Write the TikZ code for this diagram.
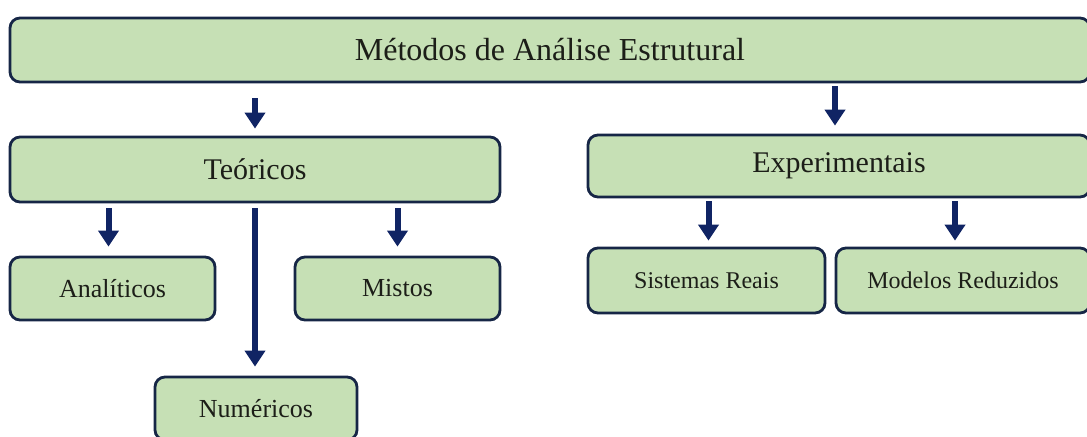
\documentclass[tikz,border=0pt]{standalone}
\usepackage{fontspec}
\setmainfont{Liberation Serif}
\usetikzlibrary{arrows.meta}
\definecolor{boxgreen}{RGB}{198,224,181}
\definecolor{boxline}{RGB}{22,38,70}
\definecolor{arrownavy}{RGB}{16,36,100}
\definecolor{textdark}{RGB}{28,30,24}
\begin{document}
\begin{tikzpicture}[x=0.5pt,y=-0.5pt,
    box/.style={draw=boxline, fill=boxgreen, line width=1.4pt, rounded corners=5pt,
      text=textdark, inner sep=0pt, font=\fontsize{13}{15}\selectfont},
    arr/.style={draw=arrownavy, line width=3pt, -{Triangle[width=10pt,length=8pt]}}]
            % Frame
            \useasboundingbox (0,0) rectangle (1087,436);
            \clip (0,0) rectangle (1087,436);

            % Boxes
            \node[box, minimum width=540pt, minimum height=32pt,
              font=\fontsize{16}{19}\selectfont] (metodos) at (550,50) {Métodos de Análise Estrutural};
            \node[box, minimum width=245pt, minimum height=32.5pt,
              font=\fontsize{15}{18}\selectfont] (teoricos) at (255,169.5) {Teóricos};
            \node[box, minimum width=251pt, minimum height=31pt,
              font=\fontsize{15}{18}\selectfont] (experimentais) at (839,166) {Experimentais};
            \node[box, minimum width=102.5pt, minimum height=31.5pt] (analiticos) at (112.5,288.5) {Analíticos};
            \node[box, minimum width=102.5pt, minimum height=31.5pt] (mistos) at (397.5,288.5) {Mistos};
            \node[box, minimum width=101pt, minimum height=31.5pt] (numericos) at (256,408.5) {Numéricos};
            \node[box, minimum width=118.5pt, minimum height=32.5pt,
              font=\fontsize{12}{14}\selectfont] (reais) at (706.5,280.5) {Sistemas Reais};
            \node[box, minimum width=127pt, minimum height=32.5pt,
              font=\fontsize{12}{14}\selectfont] (reduzidos) at (963,280.5) {Modelos Reduzidos};

            % Arrows
            \draw[arr, shorten <=7.5pt, shorten >=3.5pt] (metodos.south -| teoricos.north) -- (teoricos.north);
            \draw[arr, shorten <=1.5pt, shorten >=4pt] ([xshift=-2pt]metodos.south -| experimentais.north) -- ([xshift=-2pt]experimentais.north);
            \draw[arr, shorten <=2.5pt, shorten >=4.5pt] ([xshift=-2pt]teoricos.south -| analiticos.north) -- ([xshift=-2pt]analiticos.north);
            \draw[arr, shorten <=2.5pt, shorten >=4.5pt] (teoricos.south -| mistos.north) -- (mistos.north);
            \draw[arr, shorten <=2.5pt, shorten >=4.5pt] (teoricos.south) -- (numericos.north -| teoricos.south);
            \draw[arr, shorten <=1.5pt, shorten >=3pt] ([xshift=1pt]experimentais.south -| reais.north) -- ([xshift=1pt]reais.north);
            \draw[arr, shorten <=1.5pt, shorten >=3pt] ([xshift=-4pt]experimentais.south -| reduzidos.north) -- ([xshift=-4pt]reduzidos.north);
\end{tikzpicture}
\end{document}
